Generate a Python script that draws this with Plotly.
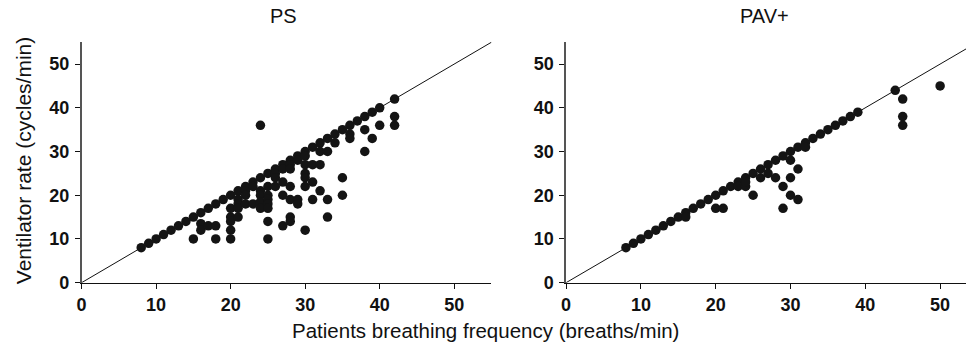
import plotly.graph_objects as go

# ---- data ----
ps_x = [8, 9, 10, 11, 12, 13, 14, 15, 16, 17, 18, 19, 20, 21, 22, 23, 24, 25, 26, 27, 28, 29, 30,
        31, 32, 33, 34, 35, 36, 37, 38, 39, 40, 42,
        26, 27, 28, 29,
        15, 16, 16, 17, 18, 18, 20, 20, 20, 20, 20, 21, 21, 21, 21, 22, 22, 22, 23, 23,
        24, 24, 24, 24, 24, 25, 25, 25, 25, 25, 25, 25, 26, 26, 27, 27, 27, 28, 28, 28, 28, 28,
        29, 29, 30, 30, 30, 30, 30, 30, 31, 31, 31, 32, 32, 32, 33, 33, 33, 34, 35, 35,
        36, 36, 38, 38, 39, 40, 42, 42]
ps_y = [8, 9, 10, 11, 12, 13, 14, 15, 16, 17, 18, 19, 20, 21, 22, 23, 24, 25, 26, 27, 28, 29, 30,
        31, 32, 33, 34, 35, 36, 37, 38, 39, 40, 42,
        25, 26, 27, 28,
        10, 13.5, 12, 13, 13, 10, 17, 15, 14, 12, 10, 19, 18, 17, 15, 21, 20, 18, 22, 18,
        21, 20, 18.5, 17, 36, 22, 20, 19, 18, 17, 14, 10, 24, 22, 23, 20, 13, 26, 22, 19, 15, 14,
        19, 18, 29, 27, 25, 24, 22, 12, 27, 23, 19, 30, 27, 21, 30, 19, 15, 32, 24, 20,
        34, 33, 35, 30, 33, 36, 38, 36]

pav_x = [8, 9, 10, 11, 12, 13, 14, 15, 16, 17, 18, 19, 20, 21, 22, 23, 24, 25, 26, 27, 28, 29, 30,
         31, 32, 33, 34, 35, 36, 37, 38, 39, 44,
         16, 20, 21, 23, 24, 24, 25, 26, 27, 28, 29, 29, 30, 30, 30, 31, 31, 32,
         45, 45, 45, 50]
pav_y = [8, 9, 10, 11, 12, 13, 14, 15, 16, 17, 18, 19, 20, 21, 22, 23, 24, 25, 26, 27, 28, 29, 30,
         31, 32, 33, 34, 35, 36, 37, 38, 39, 44,
         15, 17, 17, 22, 22, 23, 20, 24, 25, 24, 22, 17, 28, 24, 20, 26, 19, 31,
         42, 38, 36, 45]

identity = [0, 55]
tick_vals = [0, 10, 20, 30, 40, 50]

W, H = 966, 350
FONT = "Liberation Sans, Arial, Helvetica, sans-serif"

fig = go.Figure()
marker = dict(color="#141414", size=9.5, symbol="circle", line=dict(width=0))
fig.add_trace(go.Scatter(x=identity, y=identity, mode="lines",
                         line=dict(color="#111", width=1), xaxis="x", yaxis="y",
                         showlegend=False, hoverinfo="skip"))
fig.add_trace(go.Scatter(x=identity, y=identity, mode="lines",
                         line=dict(color="#111", width=1), xaxis="x2", yaxis="y2",
                         showlegend=False, hoverinfo="skip"))
fig.add_trace(go.Scatter(x=ps_x, y=ps_y, mode="markers", marker=marker,
                         xaxis="x", yaxis="y", showlegend=False, cliponaxis=False))
fig.add_trace(go.Scatter(x=pav_x, y=pav_y, mode="markers", marker=marker,
                         xaxis="x2", yaxis="y2", showlegend=False, cliponaxis=False))

tickfont = dict(family=FONT, size=18, color="#111", weight="bold")
y_dom = [(H - 291) / H, (H - 43) / H]

common_x = dict(tickmode="array", tickvals=tick_vals, ticks="outside", ticklen=5,
                tickwidth=1, tickcolor="#111", showline=True, linecolor="#111", linewidth=1,
                showgrid=False, zeroline=False, tickfont=tickfont, ticklabelstandoff=1)
common_y = dict(tickmode="array", tickvals=tick_vals, ticks="outside", ticklen=5,
                tickwidth=1, tickcolor="#111", showline=True, linecolor="#555", linewidth=1.5,
                showgrid=False, zeroline=False, tickfont=tickfont, range=[0, 55.1],
                domain=y_dom, ticklabelstandoff=2)

fig.update_layout(
    width=W, height=H,
    margin=dict(l=0, r=0, t=0, b=0),
    plot_bgcolor="white", paper_bgcolor="white",
    xaxis=dict(domain=[77 / W, 489 / W], range=[0, 55], anchor="y", **common_x),
    yaxis=dict(anchor="x", **common_y),
    xaxis2=dict(domain=[564 / W, 1.0], range=[0, 53.46], anchor="y2", **common_x),
    yaxis2=dict(anchor="x2", **common_y),
    annotations=[
        dict(text="PS", x=280 / W, y=1 - 16 / H, xref="paper", yref="paper",
             showarrow=False, xanchor="center", yanchor="middle",
             font=dict(family=FONT, size=20, color="#111")),
        dict(text="PAV+", x=763 / W, y=1 - 16 / H, xref="paper", yref="paper",
             showarrow=False, xanchor="center", yanchor="middle",
             font=dict(family=FONT, size=20, color="#111")),
        dict(text="Patients breathing frequency (breaths/min)", x=483 / W, y=1 - 340 / H,
             xref="paper", yref="paper", showarrow=False, xanchor="center", yanchor="middle",
             font=dict(family=FONT, size=20.5, color="#111")),
        dict(text="Ventilator rate (cycles/min)", x=18 / W, y=1 - 165 / H,
             xref="paper", yref="paper", showarrow=False, xanchor="center", yanchor="middle",
             textangle=-90, font=dict(family=FONT, size=21, color="#111")),
    ],
)

fig.write_html("out.html")
